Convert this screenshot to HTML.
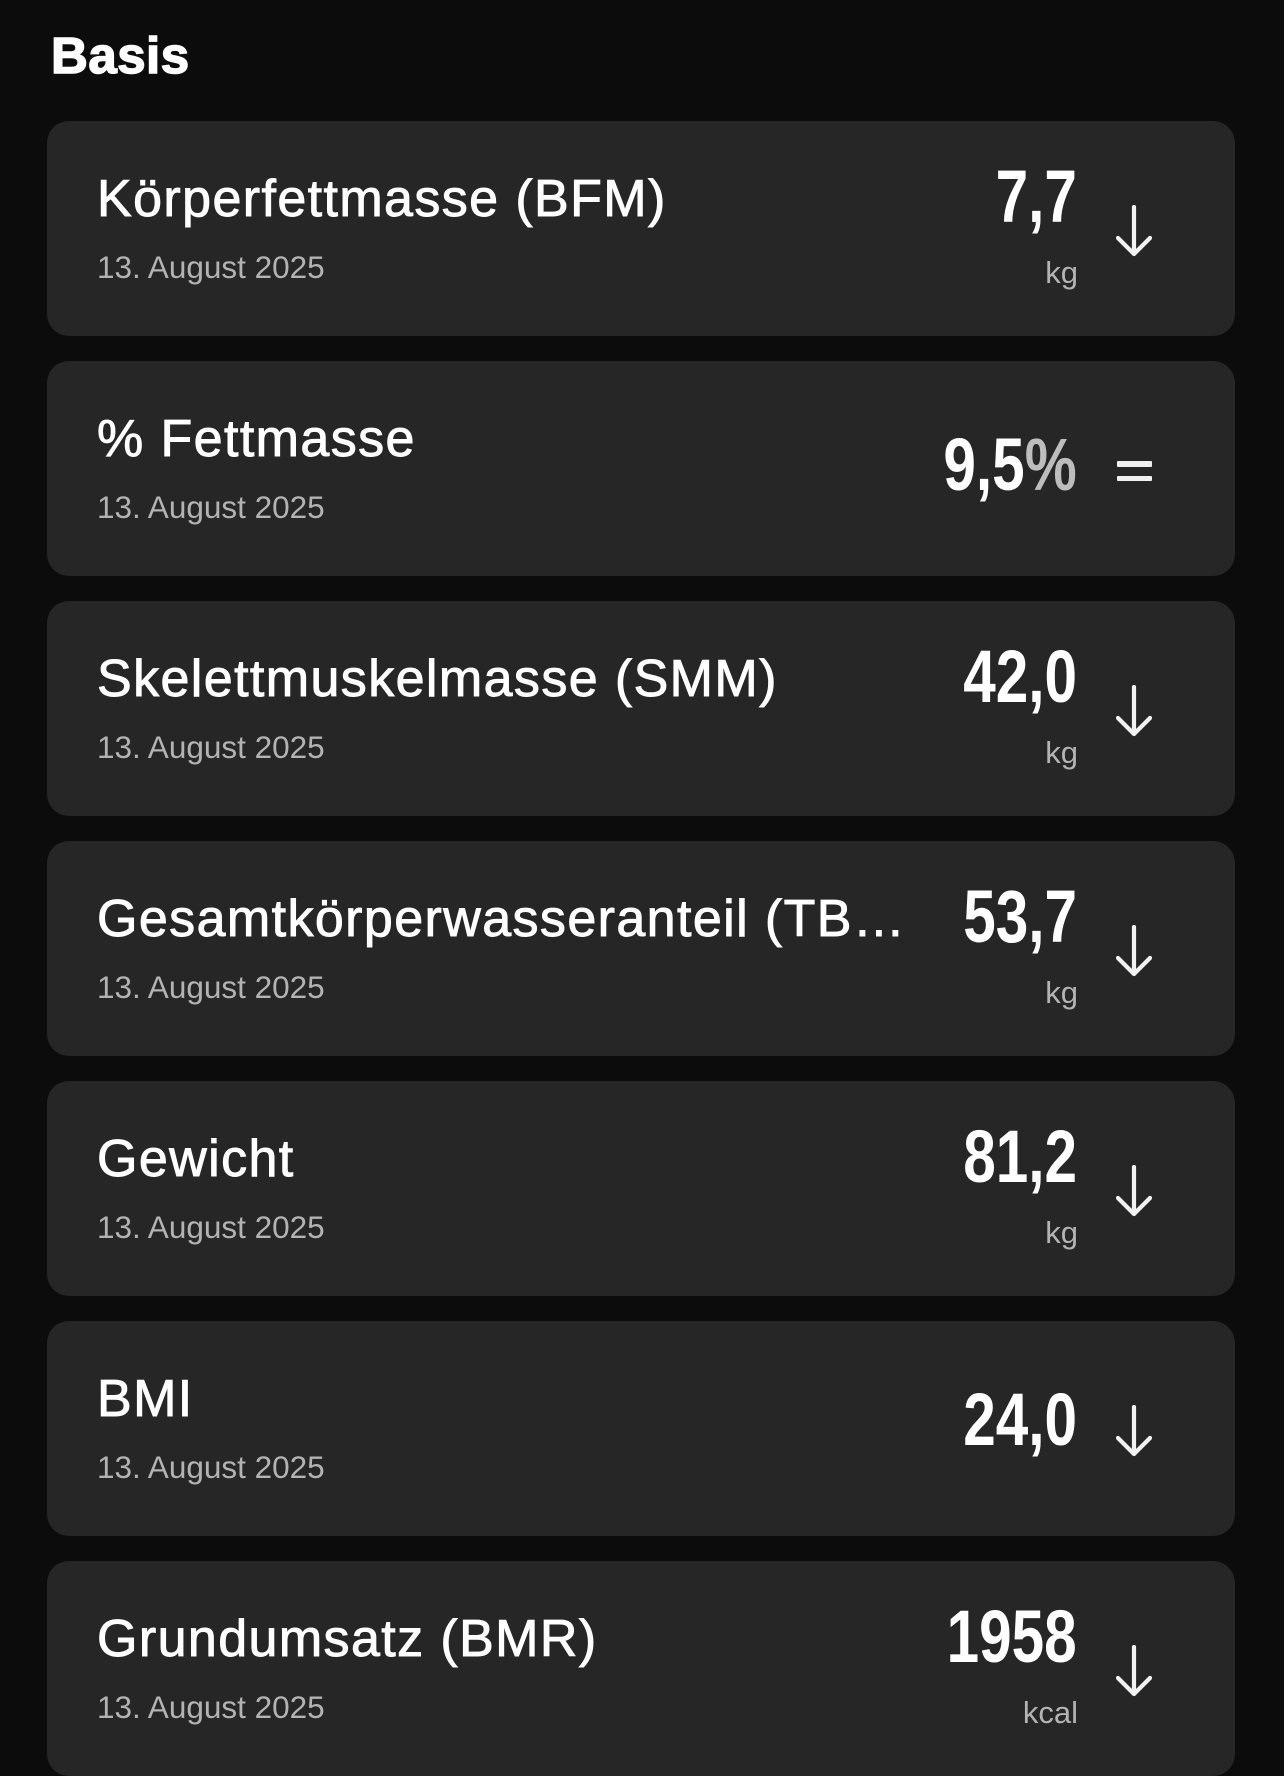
<!DOCTYPE html>
<html>
<head>
<meta charset="utf-8">
<style>
  html, body { margin:0; padding:0; }
  body {
    width:1284px; height:1772px; overflow:hidden;
    background:#0c0c0c; position:relative;
    font-family:"Liberation Sans", "DejaVu Sans", sans-serif;
  }
  .h {
    position:absolute; left:51px; top:30px;
    font-size:51px; line-height:51px; font-weight:bold; color:#fff;
    letter-spacing:0.5px; -webkit-text-stroke:1.5px #fff;
  }
  .card {
    position:absolute; left:47px; width:1188px; height:215px;
    background:#262626; border-radius:22px;
  }
  .t {
    position:absolute; left:50px; top:52px;
    font-size:52px; line-height:52px; color:#fff;
    letter-spacing:1.4px; -webkit-text-stroke:0.9px #fff;
    white-space:nowrap;
  }
  .d {
    position:absolute; left:50px; top:130px;
    font-size:31.5px; line-height:32px; color:#b3b3b3;
    white-space:nowrap;
  }
  .v {
    position:absolute; right:158px;
    font-size:74px; line-height:74px; font-weight:bold; color:#fff;
    transform:scaleX(0.79); transform-origin:right center;
    white-space:nowrap;
  }
  .v .p { color:#bdbdbd; }
  .u {
    position:absolute; right:157px; top:136px;
    font-size:31px; line-height:31px; color:#b3b3b3;
  }
  .ar { position:absolute; left:1069px; top:84px; }
  .eq { position:absolute; left:1070px; width:35px; height:5.5px; background:#f0f0f0; border-radius:1px; }
</style>
</head>
<body>
  <div class="h">Basis</div>

  <div class="card" style="top:121px;">
    <div class="t">Körperfettmasse (BFM)</div>
    <div class="d">13. August 2025</div>
    <div class="v" style="top:39px;">7,7</div>
    <div class="u">kg</div>
    <svg class="ar" width="36" height="52" viewBox="0 0 36 52"><path d="M18 2 V48 M2 33 L18 49 L34 33" fill="none" stroke="#f2f2f2" stroke-width="4.2" stroke-linecap="round" stroke-linejoin="round"/></svg>
  </div>

  <div class="card" style="top:361px;">
    <div class="t">% Fettmasse</div>
    <div class="d">13. August 2025</div>
    <div class="v" style="top:67px;">9,5<span class="p">%</span></div>
    <div class="eq" style="top:100px;"></div>
    <div class="eq" style="top:114.5px;"></div>
  </div>

  <div class="card" style="top:601px;">
    <div class="t">Skelettmuskelmasse (SMM)</div>
    <div class="d">13. August 2025</div>
    <div class="v" style="top:39px;">42,0</div>
    <div class="u">kg</div>
    <svg class="ar" width="36" height="52" viewBox="0 0 36 52"><path d="M18 2 V48 M2 33 L18 49 L34 33" fill="none" stroke="#f2f2f2" stroke-width="4.2" stroke-linecap="round" stroke-linejoin="round"/></svg>
  </div>

  <div class="card" style="top:841px;">
    <div class="t">Gesamtkörperwasseranteil (TB…</div>
    <div class="d">13. August 2025</div>
    <div class="v" style="top:39px;">53,7</div>
    <div class="u">kg</div>
    <svg class="ar" width="36" height="52" viewBox="0 0 36 52"><path d="M18 2 V48 M2 33 L18 49 L34 33" fill="none" stroke="#f2f2f2" stroke-width="4.2" stroke-linecap="round" stroke-linejoin="round"/></svg>
  </div>

  <div class="card" style="top:1081px;">
    <div class="t">Gewicht</div>
    <div class="d">13. August 2025</div>
    <div class="v" style="top:39px;">81,2</div>
    <div class="u">kg</div>
    <svg class="ar" width="36" height="52" viewBox="0 0 36 52"><path d="M18 2 V48 M2 33 L18 49 L34 33" fill="none" stroke="#f2f2f2" stroke-width="4.2" stroke-linecap="round" stroke-linejoin="round"/></svg>
  </div>

  <div class="card" style="top:1321px;">
    <div class="t">BMI</div>
    <div class="d">13. August 2025</div>
    <div class="v" style="top:62px;">24,0</div>
    <svg class="ar" width="36" height="52" viewBox="0 0 36 52"><path d="M18 2 V48 M2 33 L18 49 L34 33" fill="none" stroke="#f2f2f2" stroke-width="4.2" stroke-linecap="round" stroke-linejoin="round"/></svg>
  </div>

  <div class="card" style="top:1561px;">
    <div class="t">Grundumsatz (BMR)</div>
    <div class="d">13. August 2025</div>
    <div class="v" style="top:39px;">1958</div>
    <div class="u">kcal</div>
    <svg class="ar" width="36" height="52" viewBox="0 0 36 52"><path d="M18 2 V48 M2 33 L18 49 L34 33" fill="none" stroke="#f2f2f2" stroke-width="4.2" stroke-linecap="round" stroke-linejoin="round"/></svg>
  </div>
</body>
</html>
